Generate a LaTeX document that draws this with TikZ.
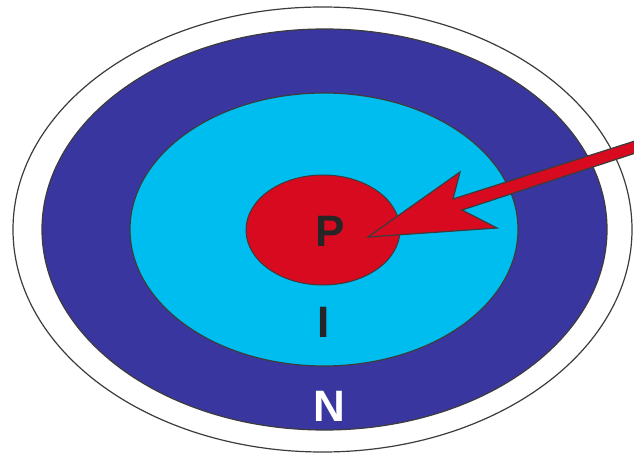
\documentclass[tikz,border=0pt]{standalone}
\usepackage{fontspec}
\setmainfont{Liberation Sans}
\usetikzlibrary{shapes.geometric}
\definecolor{ringnavy}{RGB}{58,54,160}
\definecolor{ringcyan}{RGB}{0,189,239}
\definecolor{ringred}{RGB}{215,10,32}
\definecolor{edgegray}{RGB}{60,60,60}
\tikzset{
  ring/.style={ellipse, inner sep=0pt, draw=edgegray, line width=1.2pt},
  lbl/.style={font=\fontsize{44}{44}\selectfont\bfseries, inner sep=0pt}
}
\begin{document}
\begin{tikzpicture}[x=1pt,y=-1pt]
\useasboundingbox (0,0) rectangle (634,454);
\clip (0,0) rectangle (634,454);
\fill[white] (0,0) rectangle (634,454);
\node[ring, fill=white, minimum width=619pt, minimum height=445pt] (outer) at (322.5,229.5) {};
\node[ring, fill=ringnavy, minimum width=565pt, minimum height=401pt] (navy) at (324.5,229.5) {};
\node[ring, fill=ringcyan, minimum width=388pt, minimum height=273pt] (cyan) at (324,229.5) {};
\node[ring, fill=ringred, line width=1pt, minimum width=154pt, minimum height=110pt] (red) at (323,230) {};
\node[lbl, text=black!85] (P) at (330,231) {P};
\node[lbl, text=black!85] (I) at (324,322) {I};
\node[lbl, text=white] (N) at (329,406) {N};
% arrow
\coordinate (tip) at (368,237);
\coordinate (lobarb) at (497,228);
\coordinate (lonotch) at (462,210);
\coordinate (loend) at (660,145);
\coordinate (upend) at (660,133);
\coordinate (upnotch) at (453,199);
\coordinate (upbarb) at (460,172);
\draw[fill=ringred, draw=edgegray, line width=1.2pt, line join=miter]
  (tip) -- (lobarb) -- (lonotch) -- (loend) -- (upend) -- (upnotch) -- (upbarb) -- cycle;
\end{tikzpicture}
\end{document}
